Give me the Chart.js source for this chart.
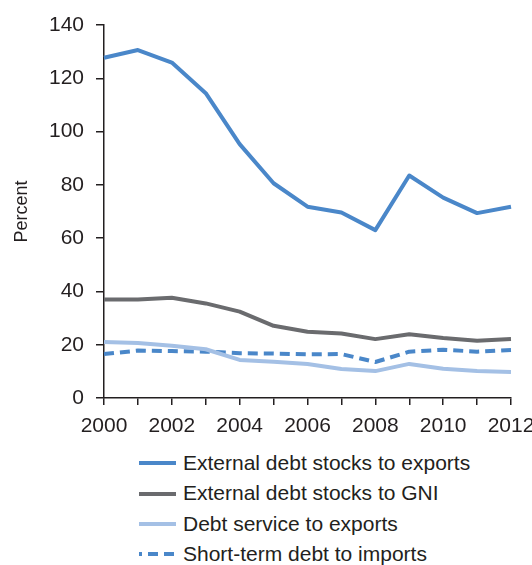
<!DOCTYPE html>
<html>
<head>
<meta charset="utf-8">
<script src="https://cdn.jsdelivr.net/npm/chart.js@4/dist/chart.umd.min.js"></script>
<style>
  html, body { margin: 0; padding: 0; background: #fff; }
  body { width: 532px; height: 565px; position: relative; overflow: hidden; font-family: "Liberation Sans", Arial, sans-serif; }
  #wrap { position: absolute; left: 0; top: 0; width: 532px; height: 440px; }
  #legend { position: absolute; left: 139px; top: 448px; margin: 0; padding: 0; list-style: none; }
  #legend li { height: 30.3px; line-height: 30.3px; font-size: 21px; color: #231f20; white-space: nowrap; }
  #legend svg { vertical-align: middle; margin-right: 7px; position: relative; top: -1px; }
</style>
</head>
<body>
<div id="wrap"><canvas id="myChart"></canvas></div>
<ul id="legend"></ul>
<script>
var years = ['2000', '2001', '2002', '2003', '2004', '2005', '2006', '2007', '2008', '2009', '2010', '2011', '2012'];
var debtToExports = [127.7, 130.6, 125.9, 114.4, 95.3, 80.6, 71.8, 69.6, 63.0, 83.5, 75.2, 69.4, 71.8];
var debtToGni = [37.0, 37.0, 37.6, 35.5, 32.4, 27.1, 24.9, 24.2, 22.1, 23.9, 22.5, 21.5, 22.1];
var serviceToExports = [21.0, 20.6, 19.6, 18.3, 14.3, 13.6, 12.8, 10.9, 10.1, 12.8, 11.0, 10.1, 9.8];
var shortTermToImports = [16.5, 17.8, 17.6, 17.4, 16.8, 16.7, 16.4, 16.5, 13.5, 17.4, 18.1, 17.4, 18.0];
var yTicks = [0, 20, 40, 60, 80, 100, 120, 140];

document.addEventListener('DOMContentLoaded', function () {
    var ink = '#231f20';
    var fontFamily = '"Liberation Sans", Arial, sans-serif';
    var ctx = document.getElementById('myChart');

    var chart = new Chart(ctx, {
        type: 'line',
        data: {
            labels: years,
            datasets: [{
                label: 'External debt stocks to exports',
                data: debtToExports,
                borderColor: '#4a87c9',
                borderWidth: 4
            }, {
                label: 'External debt stocks to GNI',
                data: debtToGni,
                borderColor: '#6a6b6e',
                borderWidth: 4
            }, {
                label: 'Debt service to exports',
                data: serviceToExports,
                borderColor: '#a4c0e5',
                borderWidth: 4
            }, {
                label: 'Short-term debt to imports',
                data: shortTermToImports,
                borderColor: '#4a87c9',
                borderWidth: 4,
                borderDash: [10, 6]
            }]
        },
        options: {
            responsive: true,
            maintainAspectRatio: false,
            animation: false,
            layout: { padding: { top: 25, right: 21, left: 0, bottom: 0 } },
            elements: {
                point: { radius: 0 },
                line: { tension: 0, borderJoinStyle: 'round', fill: false }
            },
            plugins: {
                legend: { display: false },
                tooltip: { enabled: false }
            },
            scales: {
                x: {
                    grid: { drawOnChartArea: false, drawTicks: true, tickLength: 7, color: ink, lineWidth: 1.5 },
                    border: { color: ink, width: 1.5 },
                    ticks: {
                        autoSkip: false,
                        maxRotation: 0,
                        padding: 9,
                        color: ink,
                        font: { size: 21, family: fontFamily },
                        callback: function (value, index) {
                            return index % 2 === 0 ? years[index] : '';
                        }
                    },
                    afterFit: function (scale) {
                        scale.height = 42;
                        scale.paddingLeft = 0;
                        scale.paddingRight = 0;
                    }
                },
                y: {
                    min: 0,
                    max: 140,
                    afterBuildTicks: function (scale) {
                        scale.ticks = yTicks.map(function (v) { return { value: v }; });
                    },
                    grid: { drawOnChartArea: false, drawTicks: true, tickLength: 8, color: ink, lineWidth: 1.5 },
                    border: { color: ink, width: 1.5 },
                    ticks: {
                        padding: 12,
                        color: ink,
                        font: { size: 21, family: fontFamily }
                    },
                    title: {
                        display: true,
                        text: 'Percent',
                        color: ink,
                        padding: { top: 11, bottom: 0 },
                        font: { size: 18, family: fontFamily }
                    },
                    afterFit: function (scale) { scale.width = 104; }
                }
            }
        }
    });

    var legend = document.getElementById('legend');
    chart.data.datasets.forEach(function (ds) {
        var li = document.createElement('li');
        var dash = ds.borderDash ? ' stroke-dasharray="10 6" stroke-dashoffset="7"' : '';
        li.innerHTML = '<svg width="37" height="6"><line x1="0" y1="3" x2="37" y2="3" stroke="' +
            ds.borderColor + '" stroke-width="4"' + dash + '/></svg>' + ds.label;
        legend.appendChild(li);
    });
});
</script>
</body>
</html>
